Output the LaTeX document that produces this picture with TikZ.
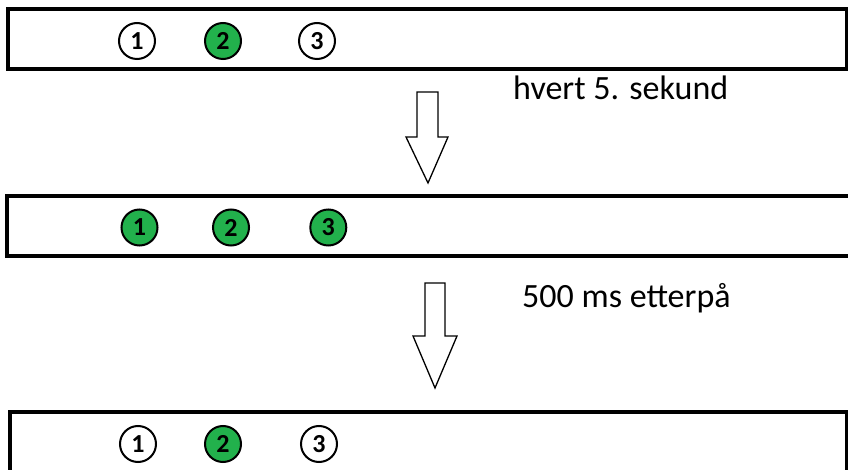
\documentclass[tikz,border=0pt]{standalone}
\usepackage{fontspec}
\setmainfont{Carlito}
\usepackage{tikz}
\usetikzlibrary{positioning,calc}
\definecolor{ledgreen}{RGB}{34,177,76}
\tikzset{
    bar/.style={draw=black, line width=4pt},
    slot/.style={circle, draw=black, line width=2pt, minimum size=36pt, inner sep=0pt, font=\fontsize{26}{26}\selectfont\bfseries},
    on/.style={slot, fill=ledgreen},
    off/.style={slot, fill=white},
    blockarrow/.style={draw=black, line width=1.3pt, fill=white, line join=miter},
    note/.style={anchor=base west, inner sep=0pt, font=\fontsize{34}{40}\selectfont}
}

\begin{document}
\begin{tikzpicture}[x=1pt,y=-1pt]
\useasboundingbox (0,0) rectangle (848,470);
\clip (0,0) rectangle (848,470);
% top state
\draw[bar] (8,9.5) rectangle (847,69);
\node[off] (a1) at (137,41) {1};
\node[on]  (a2) at (223,41) {2};
\node[off] (a3) at (317,41) {3};
% every 5 s
\draw[blockarrow] (417,92) -- (438,92) -- (438,137) -- (448,137) -- (428,183) -- (406,137) -- (417,137) -- cycle;
\node[note] (every) at (513,100) {hvert 5. sekund};
% all on
\draw[bar] (7,196) rectangle (860,256.5);
\foreach \i/\x in {1/139.5,2/231,3/328.3}
    \node[on] (b\i) at (\x,227.5) {\i};
% 500 ms later
\draw[blockarrow] (425,283) -- (445,283) -- (445,336) -- (457,336) -- (435,388) -- (413,336) -- (425,336) -- cycle;
\node[note] (after) at (522,307) {500 ms etterpå};
% back again
\draw[bar] (9.5,411.5) rectangle (847,490);
\node[off] (c1) at (138,444) {1};
\node[on]  (c2) at (223,444) {2};
\node[off] (c3) at (319,444) {3};
\end{tikzpicture}
\end{document}
